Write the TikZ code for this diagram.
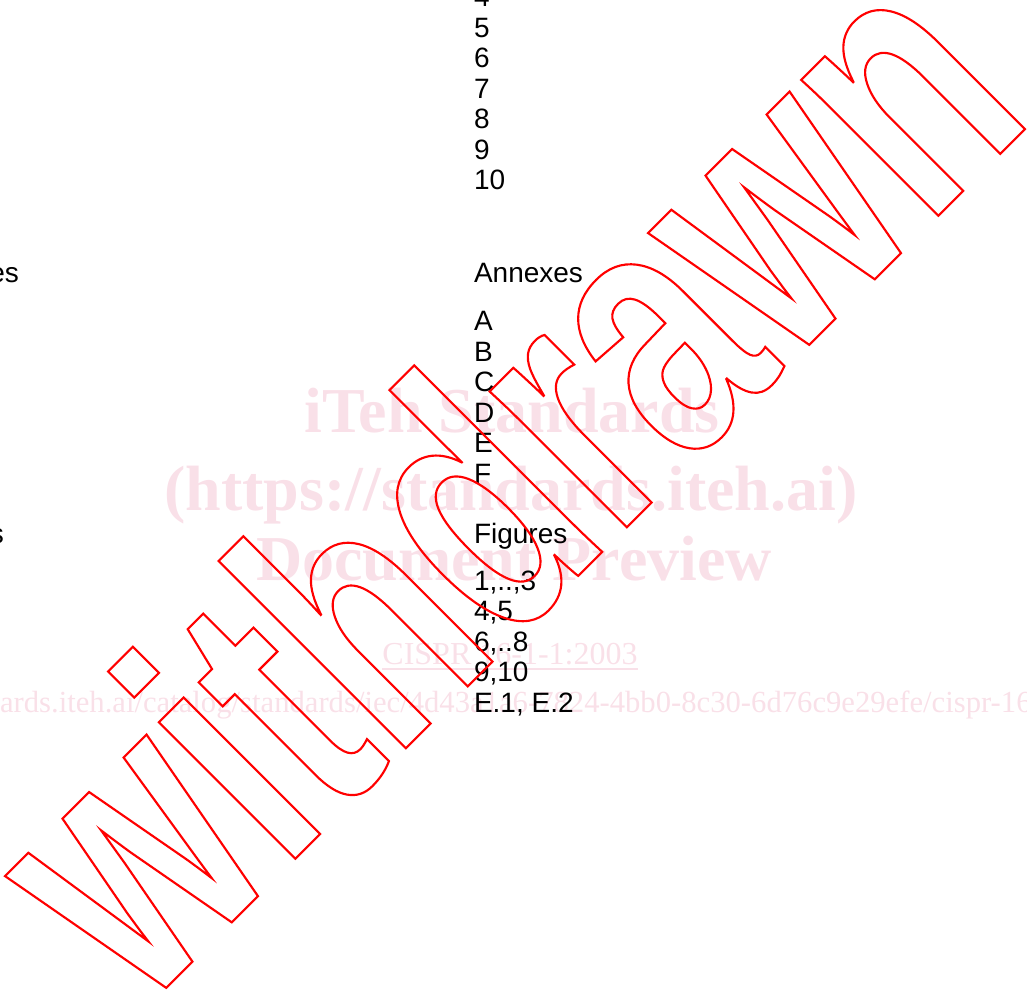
\documentclass[tikz,border=0pt]{standalone}
\usepackage{fontspec}
\usepackage{xcolor}
\setmainfont{Liberation Serif}
\newfontfamily\bodyfont{Liberation Sans}
\newfontfamily\stampfont{Liberation Sans}[FakeStretch=0.70]
\newfontfamily\wmfont{Liberation Serif}
\definecolor{wmpink}{RGB}{249,224,232}
\definecolor{stampred}{RGB}{255,0,0}
\tikzset{
  body/.style={font=\bodyfont\fontsize{21}{23}\selectfont, anchor=base west, text=black},
  bodyE/.style={font=\bodyfont\fontsize{21}{23}\selectfont, anchor=base east, text=black},
  wmbig/.style={font=\wmfont\bfseries\fontsize{48}{52}\selectfont, text=wmpink, anchor=base},
  wmsmall/.style={font=\wmfont\fontsize{24}{26}\selectfont, text=wmpink},
}
\begin{document}
\begin{tikzpicture}[x=0.75pt,y=-0.75pt, every node/.style={inner sep=0pt, outer sep=0pt}]
\useasboundingbox (0,0) rectangle (1027,989);
% watermark
\node[wmbig] (w1) at (512,432) {iTeh Standards};
\node[wmbig] (w2) at (511,510) {(https://standards.iteh.ai)};
\node[wmbig] (w3) at (514,580) {Document Preview};
\node[wmsmall, anchor=base] (w4) at (510,664) {CISPR 16-1-1:2003};
\draw[wmpink, line width=1.5pt] ([yshift=-3.5pt]w4.base west) -- ([yshift=-3.5pt]w4.base east);
\node[wmsmall, anchor=base west, font=\wmfont\fontsize{23}{25}\selectfont] (w5) at (0,712) {ards.iteh.ai/catalog/standards/iec/4d43a1a6-7824-4bb0-8c30-6d76c9e29efe/cispr-16};
% body text
\node[body] (n4) at (474,6.5) {4};
\node[body] (n5) at (474,37) {5};
\node[body] (n6) at (474,67.5) {6};
\node[body] (n7) at (474,98) {7};
\node[body] (n8) at (474,128.5) {8};
\node[body] (n9) at (474,159) {9};
\node[body] (n10) at (474,189.5) {10};
\node[body] (ann) at (474,282) {Annexes};
\node[bodyE] (lann) at (19,282) {es};
\node[body] (a) at (474,330.5) {A};
\node[body] (b) at (474,361) {B};
\node[body] (c) at (474,391.5) {C};
\node[body] (d) at (474,422) {D};
\node[body] (e) at (474,452.5) {E};
\node[body] (f) at (474,483) {F};
\node[body] (fig) at (474,543) {Figures};
\node[bodyE] (lfig) at (4,543) {s};
\node[body] (f1) at (474,590) {1,..,3};
\node[body] (f2) at (474,620.5) {4,5};
\node[body] (f3) at (474,651) {6,..8};
\node[body] (f4) at (474,681.5) {9,10};
\node[body] (f5) at (474,712) {E.1, E.2};
% stamp (outlined text)
\node[anchor=base west, rotate=45] (stamp) at (142,1012)
  {\color{stampred}\special{pdf:code 1 Tr 1.6 w 0 j 10 M}\stampfont\bfseries\fontsize{274}{300}\selectfont withdrawn\special{pdf:code 0 Tr}};
\end{tikzpicture}
\end{document}
